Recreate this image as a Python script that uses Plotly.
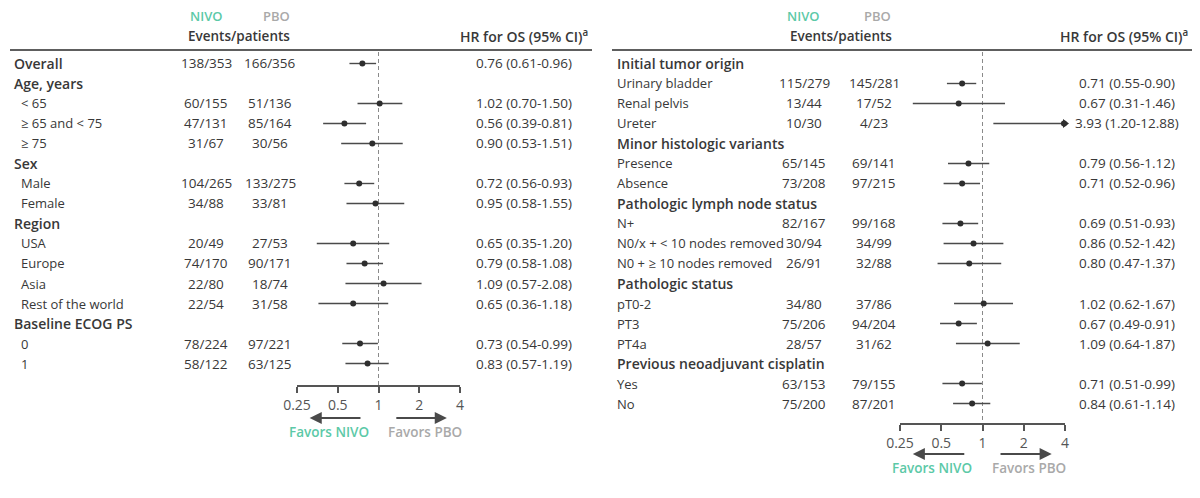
import math
import plotly.graph_objects as go

W, H = 1200, 498

# ---------------- data ----------------
labels_left = ["Overall", "Age, years", "< 65", "≥ 65 and < 75", "≥ 75", "Sex", "Male", "Female",
               "Region", "USA", "Europe", "Asia", "Rest of the world", "Baseline ECOG PS", "0", "1"]
header_left = [True, True, False, False, False, True, False, False,
               True, False, False, False, False, True, False, False]
nivo_left = ["138/353", "", "60/155", "47/131", "31/67", "", "104/265", "34/88",
             "", "20/49", "74/170", "22/80", "22/54", "", "78/224", "58/122"]
pbo_left = ["166/356", "", "51/136", "85/164", "30/56", "", "133/275", "33/81",
            "", "27/53", "90/171", "18/74", "31/58", "", "97/221", "63/125"]
hr_left = [0.76, None, 1.02, 0.56, 0.90, None, 0.72, 0.95, None, 0.65, 0.79, 1.09, 0.65, None, 0.73, 0.83]
lo_left = [0.61, None, 0.70, 0.39, 0.53, None, 0.56, 0.58, None, 0.35, 0.58, 0.57, 0.36, None, 0.54, 0.57]
hi_left = [0.96, None, 1.50, 0.81, 1.51, None, 0.93, 1.55, None, 1.20, 1.08, 2.08, 1.18, None, 0.99, 1.19]

labels_right = ["Initial tumor origin", "Urinary bladder", "Renal pelvis", "Ureter",
                "Minor histologic variants", "Presence", "Absence",
                "Pathologic lymph node status", "N+", "N0/x + < 10 nodes removed", "N0 + ≥ 10 nodes removed",
                "Pathologic status", "pT0-2", "PT3", "PT4a",
                "Previous neoadjuvant cisplatin", "Yes", "No"]
header_right = [True, False, False, False, True, False, False, True, False, False, False,
                True, False, False, False, True, False, False]
nivo_right = ["", "115/279", "13/44", "10/30", "", "65/145", "73/208", "", "82/167", "30/94", "26/91",
              "", "34/80", "75/206", "28/57", "", "63/153", "75/200"]
pbo_right = ["", "145/281", "17/52", "4/23", "", "69/141", "97/215", "", "99/168", "34/99", "32/88",
             "", "37/86", "94/204", "31/62", "", "79/155", "87/201"]
hr_right = [None, 0.71, 0.67, 3.93, None, 0.79, 0.71, None, 0.69, 0.86, 0.80, None, 1.02, 0.67, 1.09, None, 0.71, 0.84]
lo_right = [None, 0.55, 0.31, 1.20, None, 0.56, 0.52, None, 0.51, 0.52, 0.47, None, 0.62, 0.49, 0.64, None, 0.51, 0.61]
hi_right = [None, 0.90, 1.46, 12.88, None, 1.12, 0.96, None, 0.93, 1.42, 1.37, None, 1.67, 0.91, 1.87, None, 0.99, 1.14]

tick_vals = [0.25, 0.5, 1, 2, 4]
tick_text = ["0.25", "0.5", "1", "2", "4"]
x_min, x_max = 0.25, 4

# ---------------- style ----------------
FONT = "Open Sans"
TXT = "#383838"
TEAL = "#5cc9a7"
GREY = "#a9a9a9"
LINE = "#4a4a4a"
FS = 13.5      # value text size
FSL = 13       # row label size
FSH = 14       # group header size

# the page body adds an 8px offset; layout positions below are given in screen pixels
OFF = 8

def py(p):  # screen pixel y -> paper y
    return 1 - (p - OFF) / H

def px(p):  # screen pixel x -> paper x
    return (p - OFF) / W

fig = go.Figure()
annotations = []
shapes = []

ROW0, ROWH = 63.5, 20.0
TOP = 50.0

panels = [
    dict(labels=labels_left, head=header_left, nivo=nivo_left, pbo=pbo_left, hr=hr_left, lo=lo_left, hi=hi_left,
         xa="x", ya="y", xdom=(297, 460), ybot=385, lab_x=12, indent=7, nivo_x=206, pbo_x=270, hr_x=524,
         line=(10, 592), nivo_h=206, pbo_h=276, ev_h=239, hrh_right=590, arrow_y=418, fav_y=432),
    dict(labels=labels_right, head=header_right, nivo=nivo_right, pbo=pbo_right, hr=hr_right, lo=lo_right, hi=hi_right,
         xa="x2", ya="y2", xdom=(900, 1065), ybot=423, lab_x=615, indent=0, nivo_x=804, pbo_x=874, hr_x=1127,
         line=(612, 1192), nivo_h=803, pbo_h=877, ev_h=841, hrh_right=1190, arrow_y=454, fav_y=468),
]

layout_axes = {}
for k, p in enumerate(panels):
    n = len(p["labels"])
    rows = list(range(n))
    xa, ya = p["xa"], p["ya"]
    xname = "xaxis" if xa == "x" else "xaxis2"
    yname = "yaxis" if ya == "y" else "yaxis2"
    ybot_val = (p["ybot"] - ROW0) / ROWH
    ytop_val = (TOP - ROW0) / ROWH

    layout_axes[xname] = dict(
        type="log", domain=[px(p["xdom"][0]), px(p["xdom"][1])],
        range=[math.log10(x_min), math.log10(x_max)], anchor=ya,
        tickvals=tick_vals, ticktext=tick_text, ticks="outside", ticklen=6, tickwidth=1.5,
        tickcolor="#555", showline=True, linecolor="#555", linewidth=1.5, showgrid=False, zeroline=False,
        tickfont=dict(family=FONT, size=14, color="#555"), automargin=False,
    )
    layout_axes[yname] = dict(
        domain=[py(p["ybot"]), py(TOP)], range=[ybot_val, ytop_val], anchor=xa,
        visible=False, showgrid=False, zeroline=False, automargin=False,
    )

    # reference line at HR = 1
    fig.add_trace(go.Scatter(x=[1, 1], y=[ytop_val + 0.1, ybot_val], mode="lines", xaxis=xa, yaxis=ya,
                             line=dict(color="#8a8a8a", width=1, dash="4px,3px"), hoverinfo="skip",
                             showlegend=False))

    # CI lines
    cx, cy, arrow_x, arrow_y = [], [], [], []
    for i in rows:
        if p["hr"][i] is None:
            continue
        lo = max(p["lo"][i], x_min)
        hi = min(p["hi"][i], x_max)
        cx += [lo, hi, None]
        cy += [i, i, None]
        if p["hi"][i] > x_max:
            arrow_x.append(x_max)
            arrow_y.append(i)
    fig.add_trace(go.Scatter(x=cx, y=cy, mode="lines", xaxis=xa, yaxis=ya,
                             line=dict(color=LINE, width=1.4), hoverinfo="skip", showlegend=False))
    px_, py_ = [], []
    for i in rows:
        if p["hr"][i] is not None:
            px_.append(p["hr"][i])
            py_.append(i)
    fig.add_trace(go.Scatter(x=px_, y=py_, mode="markers", xaxis=xa, yaxis=ya, cliponaxis=False,
                             marker=dict(color="#2e2e2e", size=6), hoverinfo="skip", showlegend=False))
    if arrow_x:
        fig.add_trace(go.Scatter(x=arrow_x, y=arrow_y, mode="markers", xaxis=xa, yaxis=ya, cliponaxis=False,
                                 marker=dict(color="#2e2e2e", size=8, symbol="triangle-right"),
                                 hoverinfo="skip", showlegend=False))

    # table text
    for i in rows:
        hd = p["head"][i]
        annotations.append(dict(
            x=px(p["lab_x"] + (0 if hd else p["indent"])), xref="paper", y=i, yref=ya,
            text=p["labels"][i], showarrow=False, xanchor="left", yanchor="middle",
            font=dict(family=FONT, size=FSH if hd else FSL, color=TXT, weight=600 if hd else 400)))
        if p["nivo"][i]:
            annotations.append(dict(x=px(p["nivo_x"]), xref="paper", y=i, yref=ya, text=p["nivo"][i],
                                    showarrow=False, xanchor="center", yanchor="middle",
                                    font=dict(family=FONT, size=FS, color=TXT)))
        if p["pbo"][i]:
            annotations.append(dict(x=px(p["pbo_x"]), xref="paper", y=i, yref=ya, text=p["pbo"][i],
                                    showarrow=False, xanchor="center", yanchor="middle",
                                    font=dict(family=FONT, size=FS, color=TXT)))
        if p["hr"][i] is not None:
            t = f"{p['hr'][i]:.2f} ({p['lo'][i]:.2f}-{p['hi'][i]:.2f})"
            annotations.append(dict(x=px(p["hr_x"]), xref="paper", y=i, yref=ya, text=t,
                                    showarrow=False, xanchor="center", yanchor="middle",
                                    font=dict(family=FONT, size=FS, color=TXT)))

    # headers
    annotations.append(dict(x=px(p["nivo_h"]), y=py(16), xref="paper", yref="paper", text="NIVO",
                            showarrow=False, xanchor="center", yanchor="middle",
                            font=dict(family=FONT, size=13, color=TEAL, weight=600)))
    annotations.append(dict(x=px(p["pbo_h"]), y=py(16), xref="paper", yref="paper", text="PBO",
                            showarrow=False, xanchor="center", yanchor="middle",
                            font=dict(family=FONT, size=13, color=GREY, weight=600)))
    annotations.append(dict(x=px(p["ev_h"]), y=py(36), xref="paper", yref="paper", text="Events/patients",
                            showarrow=False, xanchor="center", yanchor="middle",
                            font=dict(family=FONT, size=13.5, color=TXT, weight=600)))
    annotations.append(dict(x=px(p["hrh_right"]), y=py(36), xref="paper", yref="paper",
                            text="HR for OS (95% CI)<sup>a</sup>",
                            showarrow=False, xanchor="right", yanchor="middle",
                            font=dict(family=FONT, size=14, color=TXT, weight=600)))
    shapes.append(dict(type="line", xref="paper", yref="paper", x0=px(p["line"][0]), x1=px(p["line"][1]),
                       y0=py(TOP), y1=py(TOP), line=dict(color="#5e5e5e", width=2)))

    # favors arrows
    ay = py(p["arrow_y"])
    annotations.append(dict(x=math.log10(0.31), y=ay, xref=xa, yref="paper",
                            ax=math.log10(0.755), ay=0, axref=xa, ayref="pixel",
                            showarrow=True, arrowhead=2, arrowsize=1.1, arrowwidth=2.2, arrowcolor="#4a4a4a", text=""))
    annotations.append(dict(x=math.log10(3.2), y=ay, xref=xa, yref="paper",
                            ax=math.log10(1.32), ay=0, axref=xa, ayref="pixel",
                            showarrow=True, arrowhead=2, arrowsize=1.1, arrowwidth=2.2, arrowcolor="#4a4a4a", text=""))
    fy = py(p["fav_y"])
    annotations.append(dict(x=math.log10(0.43), y=fy, xref=xa, yref="paper", text="Favors NIVO",
                            showarrow=False, xanchor="center", yanchor="middle",
                            font=dict(family=FONT, size=13.5, color=TEAL, weight=600)))
    annotations.append(dict(x=math.log10(2.2), y=fy, xref=xa, yref="paper", text="Favors PBO",
                            showarrow=False, xanchor="center", yanchor="middle",
                            font=dict(family=FONT, size=13.5, color=GREY, weight=600)))

fig.update_layout(
    width=W, height=H, margin=dict(l=0, r=0, t=0, b=0, pad=0, autoexpand=False),
    paper_bgcolor="white", plot_bgcolor="white",
    showlegend=False, annotations=annotations, shapes=shapes,
    **layout_axes,
)

fig.write_html("out.html")
